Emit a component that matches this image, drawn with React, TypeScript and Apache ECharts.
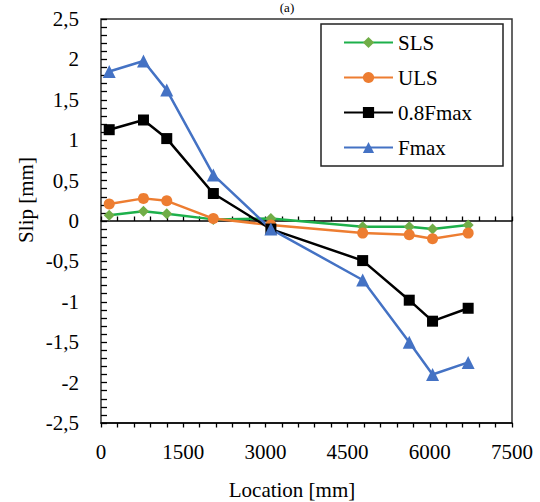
import React, { useEffect, useRef } from "react";
import * as echarts from "echarts";

const locations = [150, 775, 1200, 2050, 3100, 4775, 5625, 6050, 6700];
const sls = [0.07, 0.12, 0.09, 0.02, 0.03, -0.07, -0.07, -0.1, -0.05];
const uls = [0.21, 0.28, 0.25, 0.03, -0.05, -0.15, -0.17, -0.22, -0.15];
const f08max = [1.13, 1.25, 1.02, 0.34, -0.1, -0.49, -0.98, -1.24, -1.08];
const fmax = [1.85, 1.98, 1.62, 0.57, -0.1, -0.73, -1.5, -1.9, -1.75];
const seriesNames = ["SLS", "ULS", "0.8Fmax", "Fmax"];

const FONT = "'Liberation Serif', 'Times New Roman', Times, serif";
const FS = 21;

export default function App() {
  const ref = useRef<HTMLDivElement>(null);
  useEffect(() => {
    document.body.style.margin = "0";
    const chart = echarts.init(ref.current!, null, { renderer: "svg" });
    const pts = (v: number[]) => locations.map((x, i) => [x, v[i]]);
    const baseX = { type: "value", min: 0, max: 7500, interval: 1500, gridIndex: 0, splitLine: { show: false } };
    chart.setOption({
      animation: false,
      backgroundColor: "#fff",
      textStyle: { fontFamily: FONT },
      grid: { left: 101, top: 19, width: 411, height: 404, show: true, borderColor: "#333", borderWidth: 1.5, backgroundColor: "transparent" },
      xAxis: [
        {
          ...baseX,
          position: "bottom",
          axisLine: { show: false, onZero: false },
          axisTick: { show: false },
          axisLabel: { color: "#000", fontFamily: FONT, fontSize: FS, margin: 18, formatter: (v: number) => String(v) },
        },
        {
          ...baseX,
          position: "bottom",
          axisLine: { show: true, onZero: true, lineStyle: { color: "#000", width: 1.5 } },
          axisTick: { show: true, inside: true, length: 4.5, lineStyle: { color: "#000", width: 1.3 } },
          minorTick: { show: true, splitNumber: 5, length: 4.5, lineStyle: { color: "#000", width: 1.3 } },
          axisLabel: { show: false },
        },
        {
          ...baseX,
          position: "bottom",
          axisLine: { show: true, onZero: true, lineStyle: { color: "#000", width: 1.5 } },
          axisTick: { show: true, inside: false, length: 4.5, lineStyle: { color: "#000", width: 1.3 } },
          minorTick: { show: true, splitNumber: 5, length: 4.5, lineStyle: { color: "#000", width: 1.3 } },
          axisLabel: { show: false },
        },
      ],
      yAxis: {
        type: "value",
        min: -2.5,
        max: 2.5,
        interval: 0.5,
        axisLine: { show: false },
        axisTick: { show: true, inside: true, length: 6, lineStyle: { color: "#000", width: 1.3 } },
        minorTick: { show: true, splitNumber: 5, length: 6, lineStyle: { color: "#000", width: 1.3 } },
        splitLine: { show: false },
        axisLabel: {
          color: "#000",
          fontFamily: FONT,
          fontSize: FS,
          margin: 22,
          formatter: (v: number) => String(v).replace(".", ","),
        },
      },
      legend: {
        orient: "vertical",
        left: 343,
        top: 32,
        padding: 0,
        itemWidth: 49,
        itemHeight: 14,
        itemGap: 14,
        data: seriesNames,
        textStyle: { color: "#000", fontFamily: FONT, fontSize: FS, lineHeight: 21 },
      },
      graphic: [
        { type: "rect", shape: { x: 321, y: 24, width: 182, height: 142 }, style: { fill: "none", stroke: "#222", lineWidth: 1.5 }, z: 10 },
        { type: "text", x: 26, y: 200, rotation: Math.PI / 2, style: { text: "Slip [mm]", fontFamily: FONT, fontSize: FS, fill: "#000", align: "center", verticalAlign: "middle" } },
        { type: "text", x: 292, y: 490, style: { text: "Location [mm]", fontFamily: FONT, fontSize: FS, fill: "#000", align: "center", verticalAlign: "middle" } },
        { type: "text", x: 287, y: 1, style: { text: "(a)", fontFamily: FONT, fontSize: 13, fill: "#000", align: "center", verticalAlign: "top" } },
      ],
      series: [
        {
          name: "SLS", type: "line", data: pts(sls), symbol: "diamond", symbolSize: 11,
          lineStyle: { color: "#1DB04B", width: 2.5 }, itemStyle: { color: "#70AD47" },
        },
        {
          name: "ULS", type: "line", data: pts(uls), symbol: "circle", symbolSize: 11,
          lineStyle: { color: "#ED7D31", width: 2.5 }, itemStyle: { color: "#ED7D31" },
        },
        {
          name: "0.8Fmax", type: "line", data: pts(f08max), symbol: "rect", symbolSize: 11,
          lineStyle: { color: "#000", width: 2.5 }, itemStyle: { color: "#000" },
        },
        {
          name: "Fmax", type: "line", data: pts(fmax), symbol: "triangle", symbolSize: 13,
          lineStyle: { color: "#4472C4", width: 2.5 }, itemStyle: { color: "#4472C4" },
        },
      ],
    });
    return () => chart.dispose();
  }, []);
  return <div ref={ref} style={{ width: 540, height: 502 }} />;
}
